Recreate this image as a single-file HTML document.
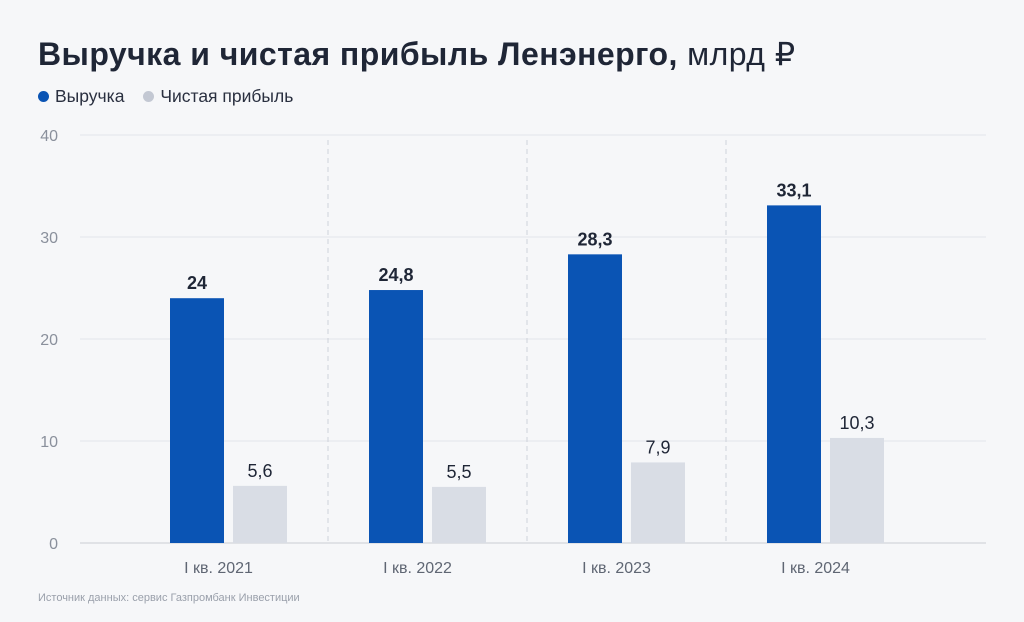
<!DOCTYPE html>
<html><head><meta charset="utf-8">
<style>
html,body{margin:0;padding:0;background:#f6f7f9;}
body{width:1024px;height:622px;overflow:hidden;position:relative;font-family:"Liberation Sans","DejaVu Sans",sans-serif;}
#title{position:absolute;left:38px;top:35px;font-size:32px;font-weight:bold;color:#1f2636;white-space:nowrap;letter-spacing:0.45px}
#title span{font-weight:normal}
#legend{position:absolute;left:38px;top:86px;font-size:17.5px;color:#2a3040;white-space:nowrap}
.dot{display:inline-block;width:11px;height:11px;border-radius:50%;margin-right:6px;vertical-align:0px}
#src{position:absolute;left:38px;top:592px;font-size:11px;color:#9aa0ab}
</style></head><body>
<div id="title">Выручка и чистая прибыль Ленэнерго, <span>млрд ₽</span></div>
<div id="legend">
<span><span class="dot" style="background:#0a54b4"></span>Выручка</span>
<span style="margin-left:14px"><span class="dot" style="background:#c3c8d3"></span>Чистая прибыль</span>
</div>
<svg id="chart" width="1024" height="622" style="position:absolute;left:0;top:0"></svg>
<div id="src">Источник данных: сервис Газпромбанк Инвестиции</div>
<script>
const categories = ["I кв. 2021","I кв. 2022","I кв. 2023","I кв. 2024"];
const revenue = [24, 24.8, 28.3, 33.1];
const profit = [5.6, 5.5, 7.9, 10.3];
const yTicks = [0,10,20,30,40];
const revenueLabels = ["24","24,8","28,3","33,1"];
const profitLabels = ["5,6","5,5","7,9","10,3"];

const NS="http://www.w3.org/2000/svg";
const svg=document.getElementById('chart');
const left=129, right=986, y0=543, y40=135, groupW=199;
const y=v=>y0-(v/40)*(y0-y40);
const gx=i=>left+groupW*i+groupW/2;
function mk(t,a){const e=document.createElementNS(NS,t);for(const k in a)e.setAttribute(k,a[k]);svg.appendChild(e);return e;}
yTicks.forEach(t=>{
  const l=mk('line',{x1:80,x2:right,y1:y(t),y2:y(t),stroke:t===0?'#c9ccd3':'#e1e4ea','stroke-width':1});
  
  
  const tx=mk('text',{x:58,y:y(t)+6,'text-anchor':'end','font-size':16,fill:'#8a909c'});
  tx.textContent=t;
  
  
});
for(let i=1;i<categories.length;i++){
  const d=mk('line',{x1:left+groupW*i,x2:left+groupW*i,y1:140,y2:y0,stroke:'#cfd3da','stroke-dasharray':'5,4'});
  
  
}
const bw=54,gap=9;
categories.forEach((c,i)=>{
  const cx=gx(i);
  const b1=mk('rect',{x:cx-gap/2-bw,y:y(revenue[i]),width:bw,height:y0-y(revenue[i]),fill:'#0a54b4'});
  
  
  const b2=mk('rect',{x:cx+gap/2,y:y(profit[i]),width:bw,height:y0-y(profit[i]),fill:'#d9dde5'});
  
  
  const t1=mk('text',{x:cx-gap/2-bw/2,y:y(revenue[i])-9,'text-anchor':'middle','font-size':18,'font-weight':'bold',fill:'#1f2636'});
  t1.textContent=revenueLabels[i];
  
  
  const t2=mk('text',{x:cx+gap/2+bw/2,y:y(profit[i])-9,'text-anchor':'middle','font-size':18,fill:'#1f2636'});
  t2.textContent=profitLabels[i];
  
  
  const xl=mk('text',{x:cx-10,y:573,'text-anchor':'middle','font-size':16,fill:'#5f6673'});
  xl.textContent=c;
  
  
});
</script>
</body></html>
